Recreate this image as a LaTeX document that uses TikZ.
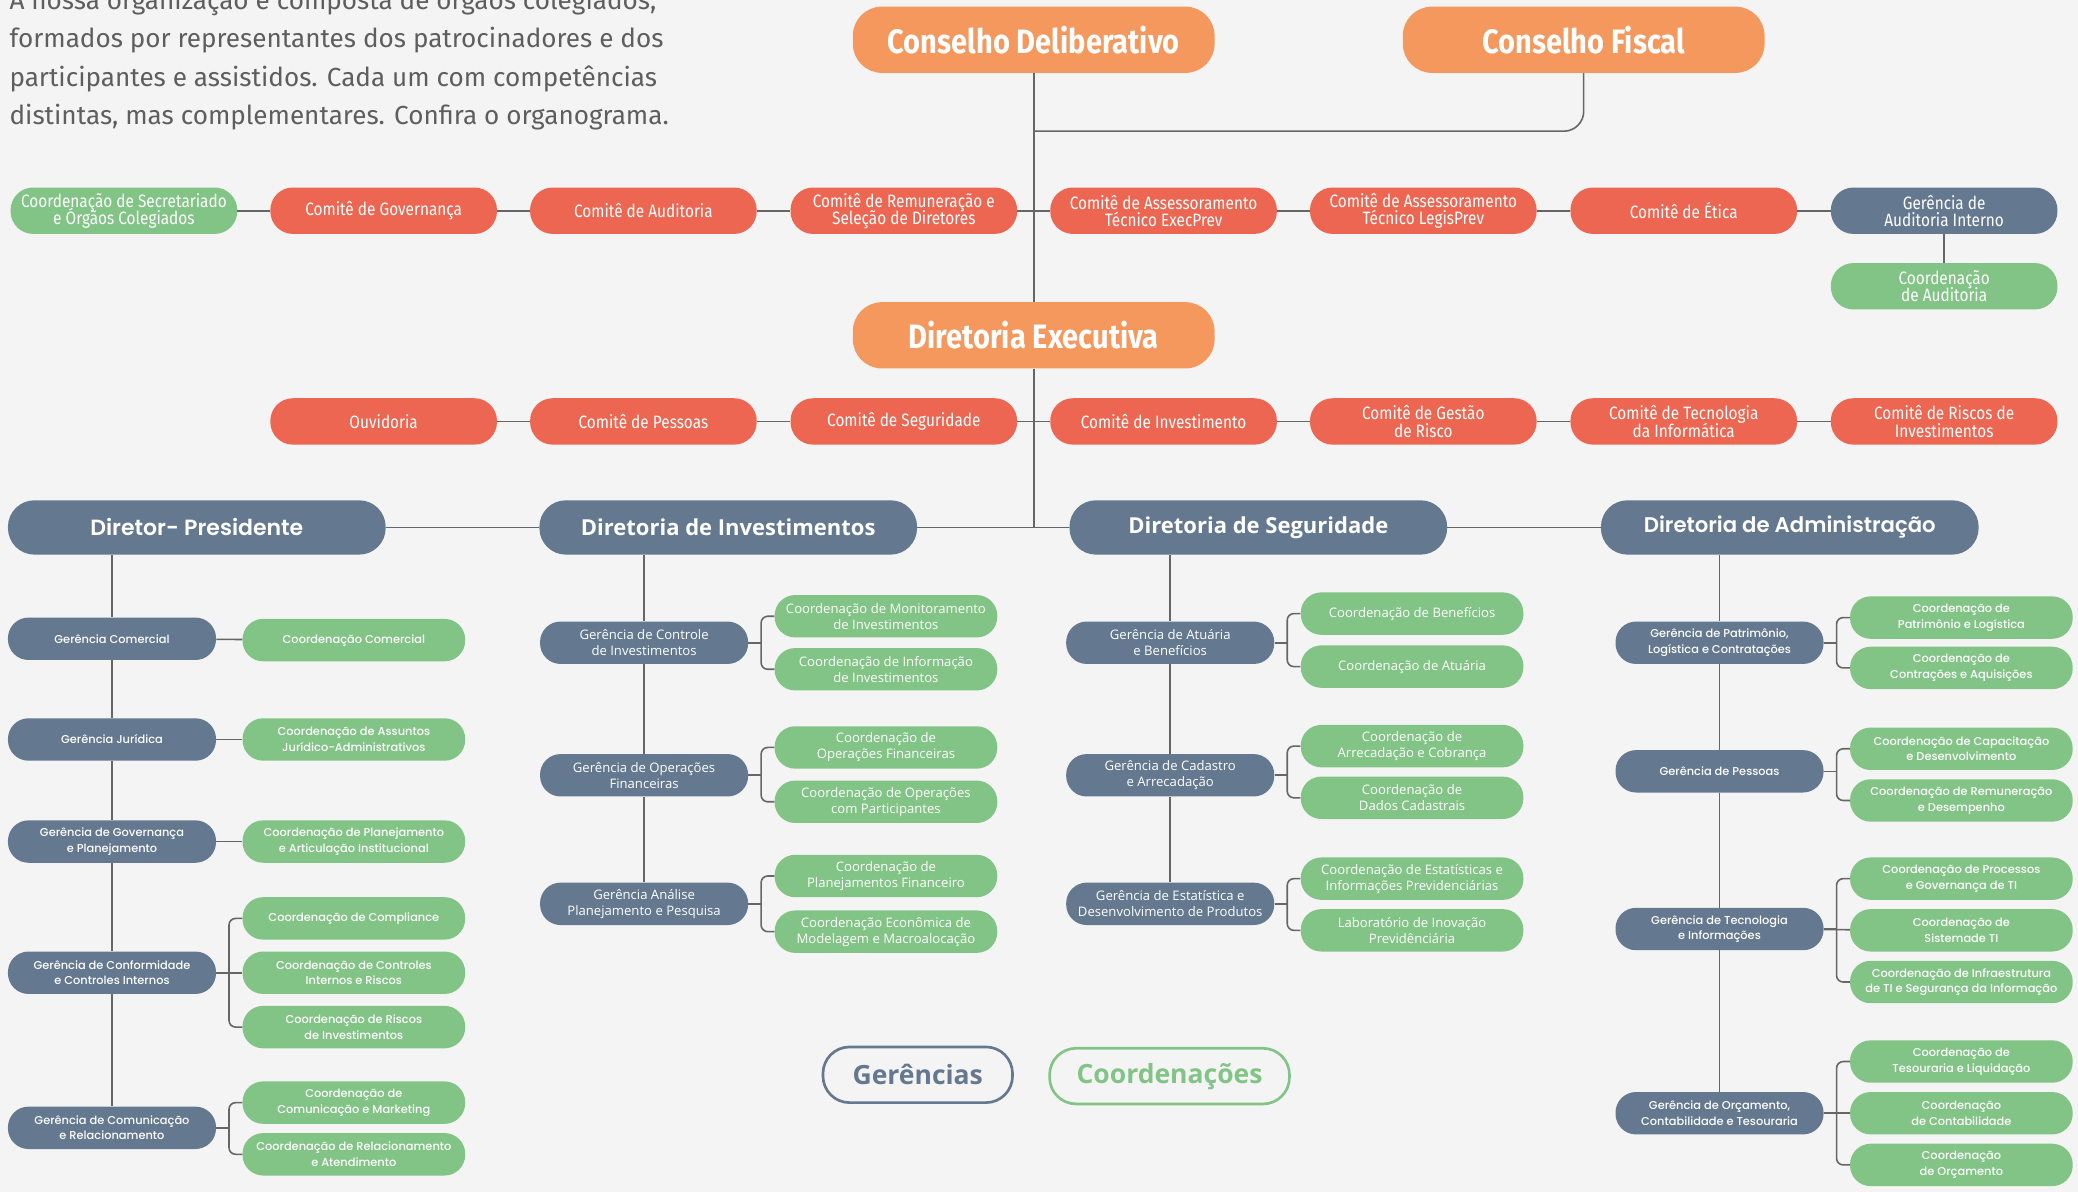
\documentclass[tikz,border=0pt]{standalone}
\usepackage{fontspec}
\setmainfont{Open Sans}
\newfontfamily\topfont[FakeStretch=0.86]{Fira Sans}
\newfontfamily\introfont{Fira Sans}
\newfontfamily\largefont[UprightFont=* Medium, BoldFont=* SemiBold]{Poppins}
\usetikzlibrary{calc}

\definecolor{fundo}{HTML}{F4F4F4}
\definecolor{laranja}{HTML}{F4985E}
\definecolor{vermelho}{HTML}{EC6652}
\definecolor{ardosia}{HTML}{64788F}
\definecolor{verde}{HTML}{82C486}
\definecolor{linha}{HTML}{666666}
\definecolor{cinza}{HTML}{5E5E5E}

\begin{document}
\begin{tikzpicture}[x=1pt,y=-1pt,
  link/.style={draw=linha, line width=1.2pt},
  pill/.style={align=center, text=white, inner sep=0pt, execute at begin node={\lineskiplimit=-20pt\lineskip=0pt}},
  conselho/.style={pill, fill=laranja, minimum width=273pt, minimum height=50pt, rounded corners=22pt, font=\topfont\bfseries\fontsize{25.5}{28}\selectfont},
  comite/.style={pill, fill=vermelho, minimum width=171pt, minimum height=35pt, rounded corners=17pt, font=\topfont\fontsize{13.5}{13}\selectfont},
  diretoria/.style={pill, fill=ardosia, minimum width=285pt, minimum height=41pt, rounded corners=20pt},
  ger/.style={pill, fill=ardosia, minimum width=157pt, minimum height=32pt, rounded corners=15.5pt},
  coord/.style={pill, fill=verde, minimum width=168pt, minimum height=32pt, rounded corners=15.5pt},
  wide/.style={font=\largefont\fontsize{8.6}{11.8}\selectfont},
  plain/.style={font=\fontsize{9.9}{12}\selectfont},
  legenda/.style={draw, line width=2pt, minimum width=143pt, minimum height=42pt, rounded corners=20pt, inner sep=0pt, font=\bfseries\fontsize{20}{22}\selectfont}]

\fill[fundo] (0,0) rectangle (1568,899.4);
\useasboundingbox (0,0) rectangle (1568,899.4);

% texto de abertura
\node[anchor=north west, align=left, inner sep=0pt, text=cinza, font=\introfont\fontsize{19.7}{29}\selectfont] (intro) at (7,-9)
  {A nossa organização é composta de órgãos colegiados,\\
   formados por representantes dos patrocinadores e dos\\
   participantes e assistidos. Cada um com competências\\
   distintas, mas complementares. Confira o organograma.};

% conselhos
\node[conselho] (cd) at (780,30) {Conselho Deliberativo};
\node[conselho] (cf) at (1195,30) {Conselho Fiscal};
\node[conselho] (de) at (780,253) {Diretoria Executiva};
\coordinate (junta) at (780,99);

% comites do conselho
\node[comite, fill=verde] (sec) at (93.5,159) {Coordenação de Secretariado\\e Órgãos Colegiados};
\node[comite] (cgov) at (289.5,159) {Comitê de Governança};
\node[comite] (caud) at (485.5,159) {Comitê de Auditoria};
\node[comite] (crem) at (682,159) {Comitê de Remuneração e\\Seleção de Diretores};
\node[comite] (cexe) at (878,159) {Comitê de Assessoramento\\Técnico ExecPrev};
\node[comite] (cleg) at (1074,159) {Comitê de Assessoramento\\Técnico LegisPrev};
\node[comite] (cet) at (1270.5,159) {Comitê de Ética};
\node[comite, fill=ardosia] (gai) at (1467,159) {Gerência de\\Auditoria Interno};
\node[comite, fill=verde] (coaud) at (1467,216) {Coordenação\\de Auditoria};

% comites da diretoria
\node[comite] (ouv) at (289.5,318) {Ouvidoria};
\node[comite] (cpes) at (485.5,318) {Comitê de Pessoas};
\node[comite] (cseg) at (682,318) {Comitê de Seguridade};
\node[comite] (cinv) at (878,318) {Comitê de Investimento};
\node[comite] (cger) at (1074,318) {Comitê de Gestão\\de Risco};
\node[comite] (ctec) at (1270.5,318) {Comitê de Tecnologia\\da Informática};
\node[comite] (cris) at (1467,318) {Comitê de Riscos de\\Investimentos};

% diretorias
\node[diretoria, font=\largefont\bfseries\fontsize{16.6}{18}\selectfont] (dp) at (148.5,398) {Diretor- Presidente};
\node[diretoria, font=\bfseries\fontsize{16.6}{18}\selectfont] (dinv) at (549.5,398) {Diretoria de Investimentos};
\node[diretoria, font=\bfseries\fontsize{16.6}{18}\selectfont] (dseg) at (949.5,398) {Diretoria de Seguridade};
\node[diretoria, font=\largefont\bfseries\fontsize{16}{18}\selectfont] (dadm) at (1350.5,398) {Diretoria de Administração};

% Diretor-Presidente
\node[ger, wide] (gcom) at (84.5,482) {Gerência Comercial};
\node[ger, wide] (gjur) at (84.5,558) {Gerência Jurídica};
\node[ger, wide] (ggov) at (84.5,635) {Gerência de Governança\\e Planejamento};
\node[ger, wide] (gcon) at (84.5,734) {Gerência de Conformidade\\e Controles Internos};
\node[ger, wide] (gcomu) at (84.5,851) {Gerência de Comunicação\\e Relacionamento};
\node[coord, wide] (ccom) at (267,483) {Coordenação Comercial};
\node[coord, wide] (cjur) at (267,558) {Coordenação de Assuntos\\Jurídico-Administrativos};
\node[coord, wide] (cpla) at (267,635) {Coordenação de Planejamento\\e Articulação Institucional};
\node[coord, wide] (ccompl) at (267,693) {Coordenação de Compliance};
\node[coord, wide] (cctrl) at (267,734) {Coordenação de Controles\\Internos e Riscos};
\node[coord, wide] (crisc) at (267,775) {Coordenação de Riscos\\de Investimentos};
\node[coord, wide] (cmkt) at (267,832) {Coordenação de\\Comunicação e Marketing};
\node[coord, wide] (crel) at (267,871) {Coordenação de Relacionamento\\e Atendimento};

% Diretoria de Investimentos
\node[ger, plain] (gctr) at (486,485) {Gerência de Controle\\de Investimentos};
\node[ger, plain] (gope) at (486,585) {Gerência de Operações\\Financeiras};
\node[ger, plain] (gana) at (486,682) {Gerência Análise\\Planejamento e Pesquisa};
\node[coord, plain] (cmon) at (668.5,465) {Coordenação de Monitoramento\\de Investimentos};
\node[coord, plain] (cinfo) at (668.5,505) {Coordenação de Informação\\de Investimentos};
\node[coord, plain] (copf) at (668.5,564) {Coordenação de\\Operações Financeiras};
\node[coord, plain] (copp) at (668.5,605) {Coordenação de Operações\\com Participantes};
\node[coord, plain] (cplf) at (668.5,661) {Coordenação de\\Planejamentos Financeiro};
\node[coord, plain] (ceco) at (668.5,703) {Coordenação Econômica de\\Modelagem e Macroalocação};

% Diretoria de Seguridade
\node[ger, plain] (gatu) at (883,485) {Gerência de Atuária\\e Benefícios};
\node[ger, plain] (gcad) at (883,585) {Gerência de Cadastro\\e Arrecadação};
\node[ger, plain] (gest) at (883,682) {Gerência de Estatística e\\Desenvolvimento de Produtos};
\node[coord, plain] (cben) at (1065.5,463) {Coordenação de Benefícios};
\node[coord, plain] (catu) at (1065.5,503) {Coordenação de Atuária};
\node[coord, plain] (carr) at (1065.5,563) {Coordenação de\\Arrecadação e Cobrança};
\node[coord, plain] (cdad) at (1065.5,602) {Coordenação de\\Dados Cadastrais};
\node[coord, plain] (cesta) at (1065.5,663) {Coordenação de Estatísticas e\\Informações Previdenciárias};
\node[coord, plain] (clab) at (1065.5,702) {Laboratório de Inovação\\Previdênciária};

% Diretoria de Administracao
\node[ger, wide] (gpat) at (1297.5,485) {Gerência de Patrimônio,\\Logística e Contratações};
\node[ger, wide] (gpes) at (1297.5,582) {Gerência de Pessoas};
\node[ger, wide] (gtec) at (1297.5,701) {Gerência de Tecnologia\\e Informações};
\node[ger, wide] (gorc) at (1297.5,840) {Gerência de Orçamento,\\Contabilidade e Tesouraria};
\node[coord, wide] (cpat) at (1480,466) {Coordenação de\\Patrimônio e Logística};
\node[coord, wide] (ccontr) at (1480,504) {Coordenação de\\Contrações e Aquisições};
\node[coord, wide] (ccap) at (1480,565) {Coordenação de Capacitação\\e Desenvolvimento};
\node[coord, wide] (cremu) at (1480,604) {Coordenação de Remuneração\\e Desempenho};
\node[coord, wide] (cproc) at (1480,663) {Coordenação de Processos\\e Governança de TI};
\node[coord, wide] (csis) at (1480,702) {Coordenação de\\Sistemade TI};
\node[coord, wide] (cinfra) at (1480,741) {Coordenação de Infraestrutura\\de TI e Segurança da Informação};
\node[coord, wide] (ctes) at (1480,801) {Coordenação de\\Tesouraria e Liquidação};
\node[coord, wide] (ccont) at (1480,840) {Coordenação\\de Contabilidade};
\node[coord, wide] (corc) at (1480,879) {Coordenação\\de Orçamento};

% legenda
\node[legenda, draw=ardosia, text=ardosia] (lger) at (692.5,811) {Gerências};
\node[legenda, draw=verde, text=verde, minimum width=181pt] (lcoord) at (882.5,812) {Coordenações};

% ligacoes
\draw[link] (cd) -- (de);
\draw[link] (de) -- (de |- dinv);
\draw[link, rounded corners=15pt] (cf.south) |- (junta);
\foreach \from/\to in {sec/cgov,cgov/caud,caud/crem,crem/cexe,cexe/cleg,cleg/cet,cet/gai,gai/coaud,
    ouv/cpes,cpes/cseg,cseg/cinv,cinv/cger,cger/ctec,ctec/cris,
    dp/dinv,dinv/dseg,dseg/dadm,
    gcom/gjur,gjur/ggov,ggov/gcon,gcon/gcomu,gctr/gope,gope/gana,gatu/gcad,gcad/gest,gpat/gpes,gpes/gtec,gtec/gorc,
    gcom/ccom,gjur/cjur,ggov/cpla,gcon/cctrl,gtec/csis,gorc/ccont}
    \draw[link] (\from) -- (\to);
\foreach \chefe/\topo in {dp/gcom,dinv/gctr,dseg/gatu,dadm/gpat}
    \draw[link] (\topo.north |- \chefe.south) -- (\topo);
\foreach \g/\a/\b in {gcon/ccompl/crisc,gcomu/cmkt/crel,gctr/cmon/cinfo,gope/copf/copp,gana/cplf/ceco,
    gatu/cben/catu,gcad/carr/cdad,gest/cesta/clab,gpat/cpat/ccontr,gpes/ccap/cremu,gtec/cproc/cinfra,gorc/ctes/corc}
  {
    \draw[link] (\g.east) -- ++(10,0);
    \draw[link, rounded corners=5pt] (\a.west) -- ++(-10,0) |- (\b.west);
  }
\end{tikzpicture}
\end{document}
